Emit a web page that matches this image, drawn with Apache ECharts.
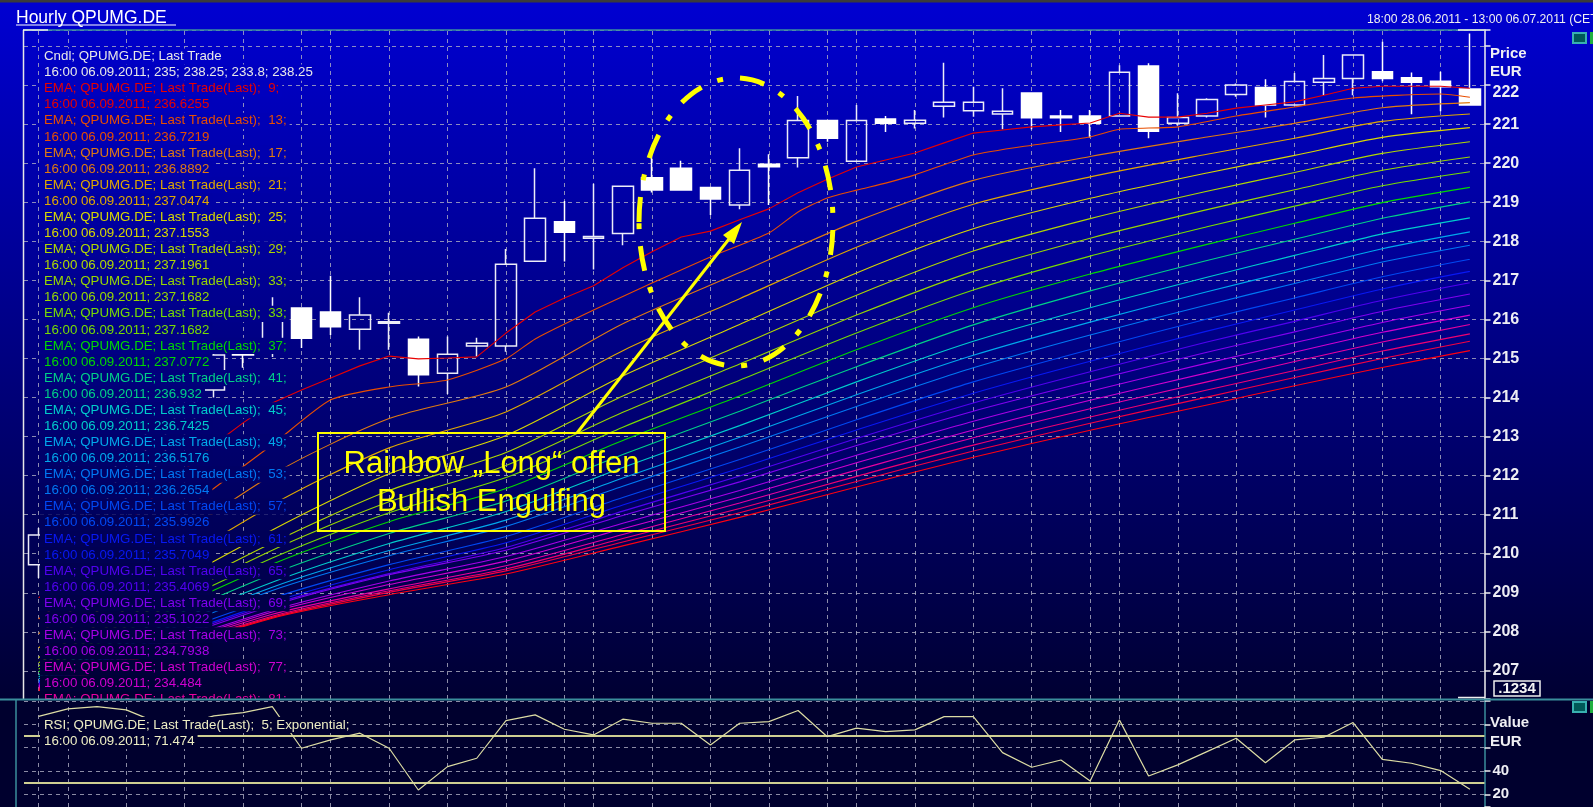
<!DOCTYPE html>
<html>
<head>
<meta charset="utf-8">
<script src="https://cdn.jsdelivr.net/npm/echarts@6.0.0/dist/echarts.min.js"></script>
<style>
html,body{margin:0;padding:0;background:#00002e;}
#chart{width:1593px;height:807px;}
</style>
</head>
<body>
<div id="chart"></div>
<script>
// ================= DATA =================
const categories = [
  '28.06 18:00',
  '29.06 10:00','29.06 11:00','29.06 12:00','29.06 13:00','29.06 14:00','29.06 15:00','29.06 16:00','29.06 17:00','29.06 18:00',
  '30.06 10:00','30.06 11:00','30.06 12:00','30.06 13:00','30.06 14:00','30.06 15:00','30.06 16:00','30.06 17:00','30.06 18:00',
  '01.07 10:00','01.07 11:00','01.07 12:00','01.07 13:00','01.07 14:00','01.07 15:00','01.07 16:00','01.07 17:00','01.07 18:00',
  '04.07 10:00','04.07 11:00','04.07 12:00','04.07 13:00','04.07 14:00','04.07 15:00','04.07 16:00','04.07 17:00','04.07 18:00',
  '05.07 10:00','05.07 11:00','05.07 12:00','05.07 13:00','05.07 14:00','05.07 15:00','05.07 16:00','05.07 17:00','05.07 18:00',
  '06.07 10:00','06.07 11:00','06.07 12:00','06.07 13:00'
];
// vertical grid lines (every second hour + day starts)
const gridlineCats = [
  '28.06 18:00','29.06 10:00','29.06 12:00','29.06 14:00','29.06 16:00','29.06 18:00',
  '30.06 10:00','30.06 12:00','30.06 14:00','30.06 16:00','30.06 18:00',
  '01.07 10:00','01.07 12:00','01.07 14:00','01.07 16:00','01.07 18:00',
  '04.07 10:00','04.07 12:00','04.07 14:00','04.07 16:00','04.07 18:00',
  '05.07 10:00','05.07 12:00','05.07 14:00','05.07 16:00','05.07 18:00',
  '06.07 10:00','06.07 12:00'
];

const openP  = [209.72,210.45,210.90,211.60,212.40,213.10,214.19,215.33,215.35,216.29,
                216.19,215.75,215.90,215.49,214.62,215.32,215.32,217.49,218.50,218.08,
                218.20,219.63,219.87,219.38,218.93,219.97,220.14,221.09,220.05,221.13,
                221.02,221.46,221.34,221.26,221.80,221.21,221.21,221.21,222.49,221.02,
                221.21,221.76,221.94,221.49,222.07,222.17,222.34,222.19,222.10,221.90];
const closeP = [210.48,210.90,211.60,212.40,213.10,214.20,215.09,215.09,216.24,215.52,
                215.81,216.11,215.94,214.58,215.11,215.39,217.41,218.59,218.23,218.12,
                219.41,219.31,219.31,219.08,219.82,219.91,221.09,220.64,221.09,221.02,
                221.10,221.56,221.56,221.33,221.16,221.16,221.02,222.33,220.82,221.17,
                221.63,222.00,221.49,222.09,222.17,222.77,222.17,222.07,221.96,221.49];
const lowP   = [209.38,210.30,210.70,211.40,212.20,212.90,214.00,214.76,215.04,215.27,
                215.60,215.22,215.22,214.28,214.09,215.05,215.17,217.49,217.48,217.28,
                217.90,219.25,219.31,218.67,218.82,218.93,219.89,220.55,220.05,220.80,
                220.89,221.17,221.19,220.87,220.87,220.80,220.66,221.21,220.64,220.96,
                221.17,221.70,221.17,221.49,221.74,221.74,222.10,221.25,221.33,221.49];
const highP  = [210.66,211.10,211.80,212.60,213.40,214.40,215.30,215.45,216.57,216.29,
                217.12,216.57,216.17,215.56,215.56,215.53,217.80,219.87,219.03,219.47,
                219.41,220.35,220.06,219.38,220.38,220.23,221.72,221.09,221.49,221.21,
                221.36,222.57,221.96,221.92,221.80,221.36,221.36,222.51,222.56,221.79,
                221.66,222.04,222.15,222.31,222.77,222.77,223.11,222.32,222.34,223.32];

const rsiValues = [86.8,93.2,95.2,92.4,82.1,80.3,87.2,90.0,95.2,59.5,
                   66.6,72.4,59.5,23.7,43.7,50.9,83.2,88.1,75.8,70.9,
                   84.4,80.9,80.9,62.3,80.9,82.3,91.8,69.4,76.7,73.7,
                   75.2,86.6,86.6,55.7,43.2,49.4,31.4,83.8,35.7,45.2,
                   56.6,68.1,47.1,66.6,68.9,81.5,50.0,46.6,40.3,24.3];
const rsiLevels = [70, 30];

// EMA 9 read at every bar
const ema9 = [208.87,209.46,210.10,210.74,211.51,212.15,212.79,213.35,213.86,214.19,
              214.50,214.81,215.06,214.99,215.01,215.04,215.65,216.19,216.55,216.86,
              217.32,217.73,218.11,218.26,218.55,218.83,219.24,219.59,219.90,220.08,
              220.26,220.52,220.77,220.85,220.93,220.98,221.03,221.28,221.18,221.18,
              221.28,221.41,221.49,221.57,221.74,221.92,221.97,221.97,221.97,221.92];
// EMA 13 read at these bars
const ema13Idx = [0,8,10,12,14,16,17,19,21,23,25,26,27,28,29,30,32,34,36,37,39,41,43,45,48,49];
const ema13    = [208.33,212.79,213.94,214.27,214.45,214.99,215.50,216.24,216.93,217.60,218.21,218.75,219.11,
                  219.31,219.49,219.70,220.21,220.46,220.67,220.87,220.93,221.21,221.44,221.67,221.77,221.69];
// slower EMAs read at these bars
const emaAnchorIdx = [0, 8, 12, 16, 20, 24, 28, 32, 36, 40, 43, 46, 49];
const ema17 = [207.95,212.02,213.46,214.27,215.89,217.20,218.51,219.56,220.17,220.67,221.02,221.42,221.55];
const ema21 = [207.59,211.25,212.71,213.63,215.20,216.53,217.85,218.95,219.65,220.23,220.64,221.07,221.26];
const ema25 = [207.34,210.61,212.05,213.03,214.55,215.87,217.19,218.32,219.10,219.75,220.20,220.66,220.91];
const ema29 = [207.21,210.28,211.62,212.59,214.04,215.33,216.62,217.75,218.58,219.28,219.76,220.25,220.55];
const ema33 = [207.13,210.09,211.33,212.26,213.62,214.86,216.11,217.23,218.08,218.81,219.32,219.82,220.16];
const ema37 = [207.05,209.89,211.05,211.95,213.24,214.44,215.65,216.75,217.62,218.37,218.90,219.42,219.78];
const ema41 = [206.98,209.73,210.82,211.67,212.90,214.04,215.22,216.30,217.16,217.92,218.46,218.99,219.38];
const ema45 = [206.90,209.48,210.52,211.35,212.54,213.65,214.79,215.86,216.73,217.51,218.05,218.59,219.01];
const ema49 = [206.85,209.27,210.26,211.08,212.21,213.28,214.40,215.44,216.30,217.08,217.64,218.19,218.60];
const ema53 = [206.80,209.14,210.08,210.86,211.94,212.98,214.07,215.08,215.93,216.71,217.26,217.81,218.24];
const ema57 = [206.75,209.06,209.95,210.70,211.73,212.73,213.77,214.76,215.60,216.37,216.92,217.47,217.90];
const ema61 = [206.72,208.86,209.72,210.44,211.44,212.41,213.43,214.40,215.23,216.01,216.55,217.09,217.54];
const ema65 = [206.69,208.76,209.59,210.28,211.25,212.19,213.17,214.11,214.93,215.70,216.24,216.78,217.23];
const ema69 = [206.67,208.71,209.49,210.16,211.09,211.99,212.95,213.86,214.66,215.42,215.95,216.49,216.94];
const ema73 = [206.64,208.67,209.46,210.09,210.98,211.84,212.77,213.65,214.42,215.16,215.68,216.21,216.65];
const ema77 = [206.62,208.55,209.30,209.93,210.78,211.62,212.52,213.39,214.16,214.88,215.40,215.92,216.36];
const ema81 = [206.59,208.51,209.21,209.81,210.64,211.45,212.33,213.17,213.93,214.63,215.16,215.67,216.11];
const ema85 = [206.57,208.45,209.10,209.69,210.49,211.30,212.14,212.97,213.71,214.40,214.92,215.42,215.87];
const ema89 = [206.54,208.40,209.05,209.61,210.39,211.16,211.98,212.78,213.50,214.19,214.69,215.19,215.63];
const ema93 = [206.52,208.37,209.01,209.56,210.30,211.05,211.85,212.63,213.34,214.01,214.51,215.00,215.44];
const ema97 = [206.49,208.35,208.95,209.48,210.20,210.93,211.71,212.47,213.16,213.81,214.30,214.77,215.20];

const legendPeriods = [9,13,17,21,25,29,33,33,37,41,45,49,53,57,61,65,69,73,77,81];
const emaLegendValues = ['236.6255','236.7219','236.8892','237.0474','237.1553','237.1961','237.1682','237.1682',
  '237.0772','236.932','236.7425','236.5176','236.2654','235.9926','235.7049','235.4069','235.1022','234.7938','234.484'];
const emaColors = ['#E80000','#E84E00','#E07A10','#E0A800','#D8D800','#B0D800','#98D800','#78DC00',
  '#00D800','#00D088','#00CCCC','#00A8EC','#0078F4','#0048F4','#0818F4','#5000F0','#8000F0','#A800E8',
  '#D000D0','#E800A0','#F00070','#F40040','#FF0010'];

// ================= STYLE HELPERS =================
const FONT = '"Liberation Sans", Arial, sans-serif';
const GRIDC = 'rgba(175,175,195,0.8)';
const TEAL = '#3A8E9C';
function bgAt(y) {
  const t = Math.max(0, Math.min(1, y / 699));
  const b = Math.round(210 + (50 - 210) * t);
  return 'rgb(0,0,' + b + ')';
}

const slowSets = [ema17, ema21, ema25, ema29, ema33, ema37, ema41, ema45, ema49, ema53, ema57,
  ema61, ema65, ema69, ema73, ema77, ema81, ema85, ema89, ema93, ema97];

const series = [];
series.push({
  type: 'candlestick', xAxisIndex: 0, yAxisIndex: 0, z: 2, barWidth: 21, silent: true, animation: false,
  data: categories.map((c, i) => [openP[i], closeP[i], lowP[i], highP[i]]),
  itemStyle: { color: 'rgba(0,0,0,0)', borderColor: '#ECECF8', color0: '#FFFFFF', borderColor0: '#FFFFFF', borderWidth: 1.5 },
  markLine: {
    silent: true, animation: false, z: 1, symbol: ['none', 'none'], label: { show: false },
    lineStyle: { type: [4, 4], color: GRIDC, width: 1 },
    data: gridlineCats.map(c => ({ xAxis: c }))
  }
});
function lineSeries(data, color, smooth) {
  return { type: 'line', xAxisIndex: 0, yAxisIndex: 0, z: 3, silent: true, animation: false, symbol: 'none',
    smooth: smooth, data: data, lineStyle: { width: 1.1, color: color } };
}
series.push(lineSeries(ema9, emaColors[0], false));
series.push(lineSeries(ema13Idx.map((ix, j) => [ix, ema13[j]]), emaColors[1], 0.2));
slowSets.forEach((arr, k) => {
  series.push(lineSeries(emaAnchorIdx.map((ix, j) => [ix, arr[j]]), emaColors[k + 2], 0.25));
});
series.push({
  type: 'line', xAxisIndex: 1, yAxisIndex: 1, z: 200, silent: true, animation: false, symbol: 'none',
  data: rsiValues, lineStyle: { width: 1.2, color: '#DCDCA4' },
  markLine: {
    silent: true, animation: false, z: 180, symbol: ['none', 'none'], label: { show: false },
    lineStyle: { type: [4, 4], color: GRIDC, width: 1 },
    data: gridlineCats.map(c => ({ xAxis: c })).concat(
      rsiLevels.map(v => ({ yAxis: v, lineStyle: { type: 'solid', color: '#CFCF92', width: 2 } })))
  }
});

// ================= GRAPHIC =================
const g = [];
g.push({ type: 'rect', z: -100, shape: { x: 0, y: 0, width: 1593, height: 700 },
  style: { fill: new echarts.graphic.LinearGradient(0, 0, 0, 1, [{ offset: 0, color: bgAt(0) }, { offset: 1, color: bgAt(699) }]) } });
g.push({ type: 'rect', z: -100, shape: { x: 0, y: 0, width: 1593, height: 2.5 }, style: { fill: '#3a3a3a' } });
g.push({ type: 'text', z: 50, x: 16, y: 18, style: { text: 'Hourly QPUMG.DE', fill: '#FFFFFF', font: '17.5px ' + FONT, verticalAlign: 'middle' } });
g.push({ type: 'line', z: 50, shape: { x1: 16, y1: 25, x2: 176, y2: 25 }, style: { stroke: '#FFFFFF', lineWidth: 1.2 } });
g.push({ type: 'text', z: 50, x: 1367, y: 20, style: { text: '18:00 28.06.2011 - 13:00 06.07.2011 (CET)', fill: '#F0F0F0', font: '12.2px ' + FONT, verticalAlign: 'middle' } });

// legend rows
const rows = [
  { t: 'Cndl; QPUMG.DE; Last Trade', c: '#E8E8E8' },
  { t: '16:00 06.09.2011; 235; 238.25; 233.8; 238.25', c: '#E8E8E8' }
];
for (let j = 0; j < legendPeriods.length; j++) {
  rows.push({ t: 'EMA; QPUMG.DE; Last Trade(Last);  ' + legendPeriods[j] + ';', c: emaColors[j] });
  if (j < emaLegendValues.length) rows.push({ t: '16:00 06.09.2011; ' + emaLegendValues[j], c: emaColors[j] });
}
rows.forEach((r, k) => {
  const y = 56.5 + 16.08 * k;
  g.push({ type: 'text', z: 100, x: 40, y: y,
    style: { text: r.t, fill: r.c, font: '13.3px ' + FONT, verticalAlign: 'middle', lineHeight: 16.2,
      backgroundColor: bgAt(y), padding: [0, 3, 0, 4] } });
});

// borders of price panel
g.push({ type: 'line', z: 300, shape: { x1: 23, y1: 30, x2: 1485, y2: 30 }, style: { stroke: TEAL, lineWidth: 1.5 } });
g.push({ type: 'line', z: 301, shape: { x1: 23, y1: 30, x2: 48, y2: 30 }, style: { stroke: '#F0F0F0', lineWidth: 1.5 } });
g.push({ type: 'line', z: 301, shape: { x1: 1458, y1: 30, x2: 1485, y2: 30 }, style: { stroke: '#F0F0F0', lineWidth: 1.5 } });
g.push({ type: 'line', z: 301, shape: { x1: 1458, y1: 697.5, x2: 1485, y2: 697.5 }, style: { stroke: '#F0F0F0', lineWidth: 1.5 } });
g.push({ type: 'line', z: 300, shape: { x1: 23.5, y1: 30, x2: 23.5, y2: 699 }, style: { stroke: '#E8E8E8', lineWidth: 1.5 } });
g.push({ type: 'text', z: 300, x: 1490, y: 54, style: { text: 'Price', fill: '#F0F0F4', font: 'bold 15px ' + FONT, verticalAlign: 'middle' } });
g.push({ type: 'text', z: 300, x: 1490, y: 72, style: { text: 'EUR', fill: '#F0F0F4', font: 'bold 15px ' + FONT, verticalAlign: 'middle' } });
g.push({ type: 'rect', z: 300, shape: { x: 1494, y: 681, width: 46, height: 15 }, style: { fill: 'none', stroke: '#F0F0F0', lineWidth: 1.5 } });
g.push({ type: 'text', z: 301, x: 1517, y: 689, style: { text: '.1234', fill: '#F4F4F4', font: 'bold 15px ' + FONT, verticalAlign: 'middle', align: 'center' } });
g.push({ type: 'rect', z: 300, shape: { x: 1573, y: 33, width: 13, height: 10 }, style: { fill: '#005858', stroke: '#38B0B0', lineWidth: 2 } });
g.push({ type: 'rect', z: 300, shape: { x: 1590, y: 32, width: 3, height: 12 }, style: { fill: '#20B040' } });

// RSI panel
g.push({ type: 'rect', z: 150, shape: { x: 0, y: 699, width: 1593, height: 108 }, style: { fill: 'rgb(0,0,46)' } });
g.push({ type: 'line', z: 300, shape: { x1: 0, y1: 699.5, x2: 1593, y2: 699.5 }, style: { stroke: TEAL, lineWidth: 1.8 } });
g.push({ type: 'line', z: 300, shape: { x1: 16, y1: 699, x2: 16, y2: 807 }, style: { stroke: TEAL, lineWidth: 1.5 } });
g.push({ type: 'text', z: 220, x: 40, y: 725, style: { text: 'RSI; QPUMG.DE; Last Trade(Last);  5; Exponential;', fill: '#EEEEC4',
  font: '13.3px ' + FONT, verticalAlign: 'middle', lineHeight: 16, backgroundColor: 'rgb(0,0,46)', padding: [0, 3, 0, 4] } });
g.push({ type: 'text', z: 220, x: 40, y: 741, style: { text: '16:00 06.09.2011; 71.474', fill: '#EEEEC4',
  font: '13.3px ' + FONT, verticalAlign: 'middle', lineHeight: 16, backgroundColor: 'rgb(0,0,46)', padding: [0, 3, 0, 4] } });
g.push({ type: 'text', z: 300, x: 1490, y: 723, style: { text: 'Value', fill: '#F0F0F4', font: 'bold 15px ' + FONT, verticalAlign: 'middle' } });
g.push({ type: 'text', z: 300, x: 1490, y: 742, style: { text: 'EUR', fill: '#F0F0F4', font: 'bold 15px ' + FONT, verticalAlign: 'middle' } });
g.push({ type: 'rect', z: 300, shape: { x: 1573, y: 702, width: 13, height: 10 }, style: { fill: '#005858', stroke: '#38B0B0', lineWidth: 2 } });
g.push({ type: 'rect', z: 300, shape: { x: 1590, y: 701, width: 3, height: 12 }, style: { fill: '#20B040' } });

// annotations
const YEL = '#FFFF00';
g.push({ type: 'ellipse', z: 120, shape: { cx: 736, cy: 222, rx: 97, ry: 144 },
  style: { fill: 'none', stroke: YEL, lineWidth: 5, lineDash: [25, 17, 6, 17] } });
g.push({ type: 'line', z: 120, shape: { x1: 577, y1: 433, x2: 729, y2: 239 }, style: { stroke: YEL, lineWidth: 3 } });
g.push({ type: 'polygon', z: 120, shape: { points: [[742, 222], [734, 244], [723, 235]] }, style: { fill: YEL } });
g.push({ type: 'rect', z: 120, shape: { x: 318, y: 433, width: 347, height: 98 }, style: { fill: 'none', stroke: YEL, lineWidth: 2 } });
g.push({ type: 'text', z: 121, x: 491.5, y: 464, style: { text: 'Rainbow \u201ELong\u201C offen', fill: YEL, font: '31px ' + FONT, align: 'center', verticalAlign: 'middle' } });
g.push({ type: 'text', z: 121, x: 491.5, y: 502, style: { text: 'Bullish Engulfing', fill: YEL, font: '31px ' + FONT, align: 'center', verticalAlign: 'middle' } });

// ================= OPTION =================
const labelRich = { a: { padding: [15, 0, 0, 0], color: '#EEEEF4', fontSize: 16, fontWeight: 'bold', fontFamily: FONT } };
const option = {
  animation: false,
  grid: [
    { left: 24, right: 108.5, top: 30, height: 669 },
    { left: 24, right: 108.5, top: 701, bottom: 0 }
  ],
  xAxis: [
    { type: 'category', gridIndex: 0, data: categories, boundaryGap: true,
      axisLine: { show: false }, axisTick: { show: false }, axisLabel: { show: false }, splitLine: { show: false } },
    { type: 'category', gridIndex: 1, data: categories, boundaryGap: true,
      axisLine: { show: false }, axisTick: { show: false }, axisLabel: { show: false }, splitLine: { show: false } }
  ],
  yAxis: [
    { type: 'value', gridIndex: 0, position: 'right', min: 206.28, max: 223.41, splitNumber: 17, z: 1,
      axisLine: { show: true, lineStyle: { color: '#F0F0F0', width: 1.5 } },
      axisTick: { show: true, inside: false, length: 6, lineStyle: { color: '#F0F0F0', width: 1.5 } },
      axisLabel: { margin: 8, color: '#EEEEF4', fontSize: 16, fontWeight: 'bold', fontFamily: FONT, rich: labelRich,
        formatter: v => {
          const r = Math.round(v);
          if (Math.abs(v - r) > 1e-6 || r > 222) return '';
          return r === 222 ? '{a|222}' : String(r);
        } },
      splitLine: { show: true, lineStyle: { type: [4, 4], color: GRIDC, width: 1 } } },
    { type: 'value', gridIndex: 1, position: 'right', min: 9.1, max: 100, splitNumber: 5, z: 170,
      axisLine: { show: true, lineStyle: { color: TEAL, width: 1.5 } },
      axisTick: { show: true, inside: false, length: 6, lineStyle: { color: '#F0F0F0', width: 1.5 } },
      axisLabel: { margin: 8, color: '#EEEEF4', fontSize: 15, fontWeight: 'bold', fontFamily: FONT,
        formatter: v => (Math.abs(v - 20) < 1e-6 || Math.abs(v - 40) < 1e-6) ? String(Math.round(v)) : '' },
      splitLine: { show: true, lineStyle: { type: [4, 4], color: GRIDC, width: 1 } } }
  ],
  series: series,
  graphic: { elements: g }
};
const chart = echarts.init(document.getElementById('chart'), null, { width: 1593, height: 807 });
chart.setOption(option);
</script>
</body>
</html>
